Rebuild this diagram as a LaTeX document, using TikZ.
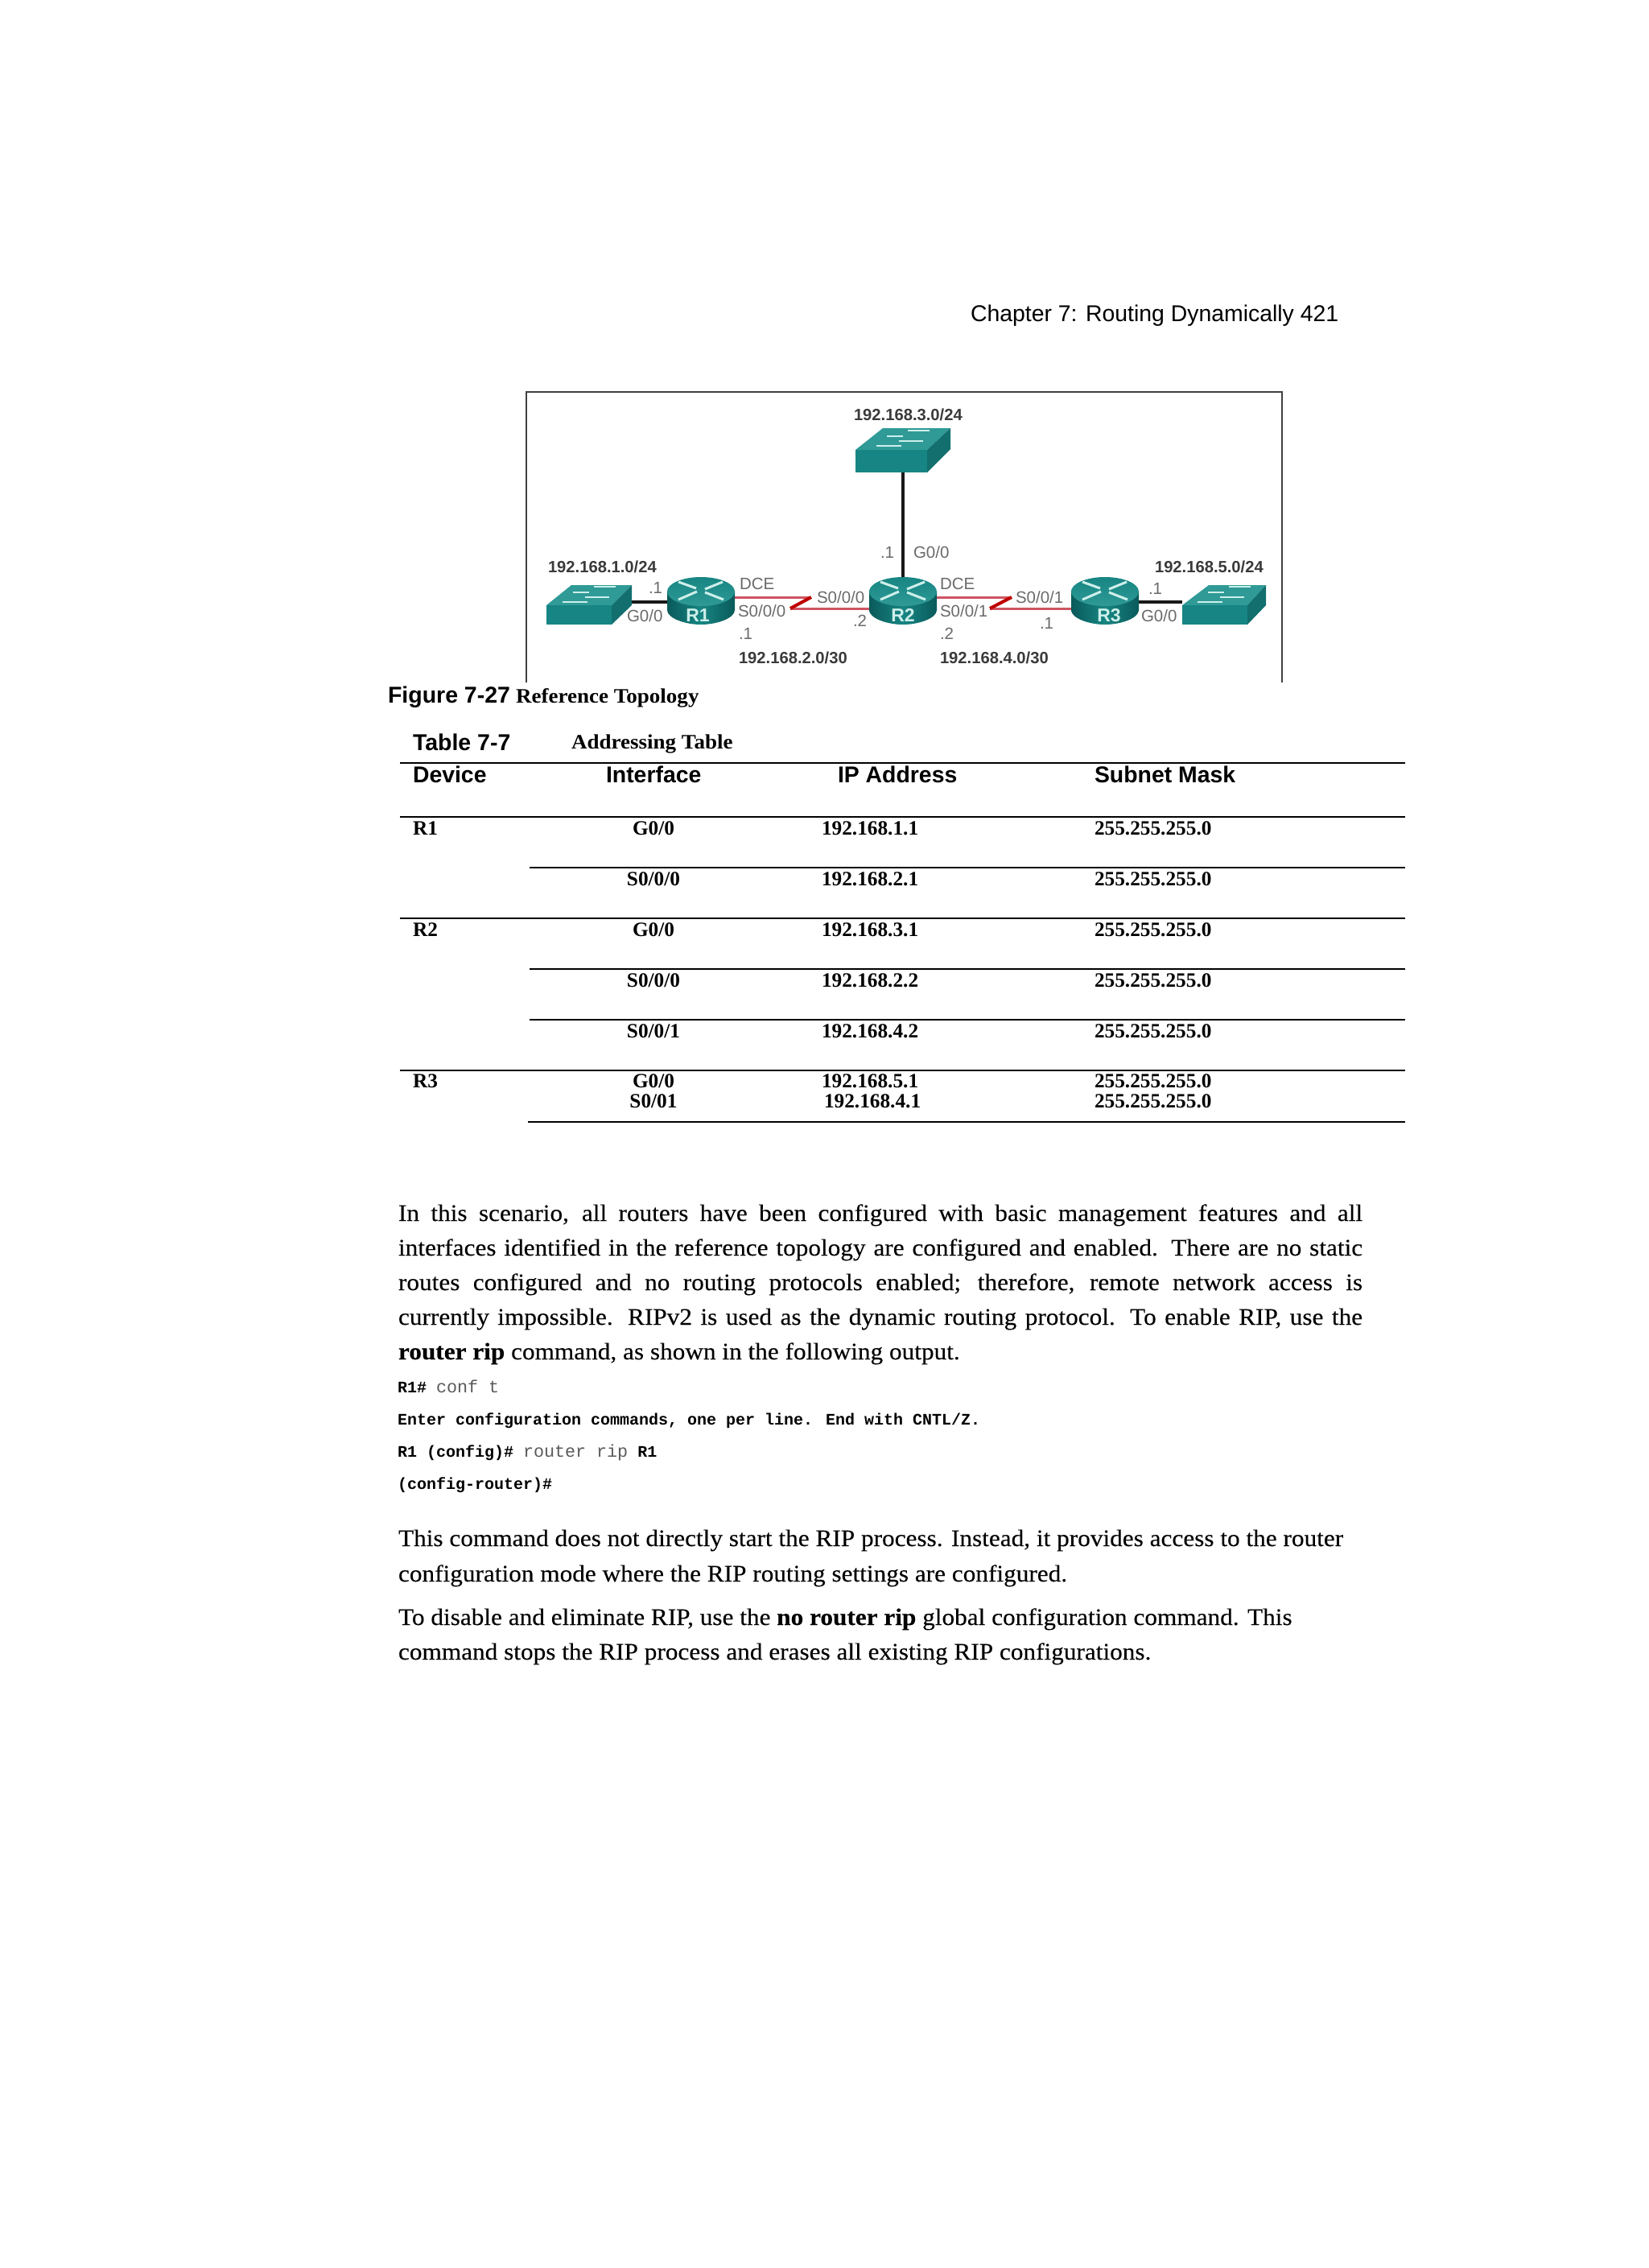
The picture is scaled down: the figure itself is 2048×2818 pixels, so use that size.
\documentclass[tikz,border=0pt]{standalone}
\usepackage{fontspec}
\setmainfont{Liberation Sans}
\newfontfamily\palfont[FakeStretch=1.06,FakeBold=0.15]{Liberation Serif}
\newfontfamily\palcell{Liberation Serif}
\newfontfamily\palcap[FakeStretch=1.06]{Liberation Serif}
\newfontfamily\codefont{Liberation Mono}
\newcommand{\fsz}[1]{\fontsize{#1}{#1}\selectfont}
\newcommand{\lightcode}[1]{{\mdseries\fsz{21.7}\color{codegray}#1}}
\definecolor{codegray}{HTML}{5A5A5A}
\definecolor{lblgray}{HTML}{6A6A6A}
\definecolor{netgray}{HTML}{3A3A3A}
\definecolor{tealtop}{HTML}{2F9A96}
\definecolor{tealfront}{HTML}{178583}
\definecolor{tealside}{HTML}{126F6E}
\definecolor{tealdark}{HTML}{0A5A5A}
\definecolor{tealpale}{HTML}{CDEFEA}
\definecolor{serialred}{HTML}{CF5563}
\tikzset{
  txt/.style={anchor=base west,inner sep=0pt,outer sep=0pt},
  hdr/.style={txt,font=\fsz{28.4}},
  net/.style={txt,font=\fsz{20.2}\bfseries,text=netgray},
  lbl/.style={txt,font=\fsz{20.5},text=lblgray},
  rname/.style={anchor=base,inner sep=0pt,font=\fsz{23}\bfseries,text=tealpale},
  capB/.style={txt,font=\fsz{28.5}\bfseries},
  capS/.style={txt,font=\palcap\bfseries\fsz{25.5}},
  colh/.style={txt,font=\fsz{28.4}\bfseries},
  cell/.style={txt,font=\palcell\bfseries\fsz{25.3}},
  cellc/.style={anchor=base,inner sep=0pt,font=\palcell\bfseries\fsz{25.3}},
  body/.style={txt,font=\palfont\fsz{29.5}},
  code/.style={txt,font=\codefont\fsz{20}},
  devbox/.style={inner sep=0pt,outer sep=0pt,minimum width=#1},
  rule/.style={line width=2pt,black},
  ether/.style={line width=4pt,black!90},
  serial/.style={line width=3pt,serialred},
  bolt/.style={line width=4pt,red!75!black}
}
\newcommand{\routerdraw}[1]{%
  \begin{scope}[shift={(#1.center)}]
    \path[left color=tealdark,right color=tealdark,middle color=tealfront]
      (-42,-13) -- (-42,10) .. controls (-42,20) and (-20,28) .. (0,28)
      .. controls (20,28) and (42,20) .. (42,10) -- (42,-13) -- cycle;
    \path[top color=tealfront,bottom color=tealtop] (0,-13) ellipse [x radius=42,y radius=18];
    \draw[tealpale,line width=3pt] (-28,-25) -- (-6,-17) (27,-25) -- (5,-16)
       (-28,-3) -- (-5,-13) (28,-3) -- (5,-12);
  \end{scope}}
\newcommand{\switchdraw}[8]{% fl fr bl br yt ym yb side-bottom
  \fill[tealtop] (#1,#6) -- (#3,#5) -- (#4,#5) -- (#2,#6) -- cycle;
  \fill[tealfront] (#1,#6) rectangle (#2,#7);
  \fill[tealside] (#2,#6) -- (#4,#5) -- (#4,#8) -- (#2,#7) -- cycle;
  \begin{scope}[shift={({(#1+#4)/2},{(#5+#6)/2})}]
    \draw[tealpale,line width=2pt] (-20,-4) -- (0,-4) (-5,2) -- (25,2) (-33,8) -- (-2,8) (6,-11) -- (33,-11);
  \end{scope}}
\begin{document}
\begin{tikzpicture}[x=1pt,y=-1pt]
\useasboundingbox (0,0) rectangle (2048,2818);
\fill[white] (0,0) rectangle (2048,2818);

\node[hdr] (head) at (1206,399) {Chapter 7: Routing Dynamically 421};

% figure frame
\draw[line width=2pt,black!75] (654,848) -- (654,487) -- (1593,487) -- (1593,848);

% device placeholders
\node[devbox=106,minimum height=49] (sw1) at (732,751.5) {};
\node[devbox=118,minimum height=55] (sw2) at (1122,559.5) {};
\node[devbox=104,minimum height=49] (sw3) at (1521,751.5) {};
\node[devbox=84,minimum height=56] (r1) at (871,748) {};
\node[devbox=84,minimum height=56] (r2) at (1122,748) {};
\node[devbox=84,minimum height=56] (r3) at (1373,748) {};

% links
\draw[ether] (sw1.east |- r1.center) -- (r1.west);
\draw[ether] (r3.east) -- (sw3.west |- r3.center);
\draw[ether] (sw2.south) -- (r2.north);
\draw[serial] ([yshift=6pt]r1.east) -- (1008,742) (982,756) -- ([yshift=-8pt]r2.west);
\draw[bolt] (1008,742) -- (982,756);
\draw[serial] ([yshift=6pt]r2.east) -- (1257,742) (1230,756) -- ([yshift=-8pt]r3.west);
\draw[bolt] (1257,742) -- (1230,756);

% devices
\switchdraw{679}{760}{710}{785}{727}{752}{776}{752}
\switchdraw{1063}{1152}{1097}{1181}{532}{559}{587}{558}
\switchdraw{1469}{1550}{1502}{1573}{727}{752}{776}{752}
\routerdraw{r1}
\routerdraw{r2}
\routerdraw{r3}
\node[rname] (r1t) at (867,772) {R1};
\node[rname] (r2t) at (1122,772) {R2};
\node[rname] (r3t) at (1378,772) {R3};

% diagram labels
\node[net] (n3) at (1061,522) {192.168.3.0/24};
\node[net] (n1) at (681,711) {192.168.1.0/24};
\node[net] (n5) at (1435,711) {192.168.5.0/24};
\node[net] (n2) at (918,824) {192.168.2.0/30};
\node[net] (n4) at (1168,824) {192.168.4.0/30};
\node[lbl] (l1) at (806,737) {.1};
\node[lbl] (l2) at (779,772) {G0/0};
\node[lbl] (l3) at (919,732) {DCE};
\node[lbl] (l4) at (917,766) {S0/0/0};
\node[lbl] (l5) at (918,794) {.1};
\node[lbl] (l6) at (1015,749) {S0/0/0};
\node[lbl] (l7) at (1060,778) {.2};
\node[lbl] (l8) at (1094,693) {.1};
\node[lbl] (l9) at (1135,693) {G0/0};
\node[lbl] (l10) at (1168,732) {DCE};
\node[lbl] (l11) at (1168,766) {S0/0/1};
\node[lbl] (l12) at (1168,794) {.2};
\node[lbl] (l13) at (1262,749) {S0/0/1};
\node[lbl] (l14) at (1292,781) {.1};
\node[lbl] (l15) at (1427,738) {.1};
\node[lbl] (l16) at (1418,772) {G0/0};

% captions
\node[capB] (c1) at (482,873) {Figure 7-27};
\node[capS] (c2) at (641,873) {Reference Topology};
\node[capB] (c3) at (513,932) {Table 7-7};
\node[capS] (c4) at (710,930) {Addressing Table};

% table rules
\draw[rule] (497,948) -- (1746,948);
\draw[rule] (497,1015) -- (1746,1015);
\draw[rule] (658,1078) -- (1746,1078);
\draw[rule] (497,1141) -- (1746,1141);
\draw[rule] (658,1204) -- (1746,1204);
\draw[rule] (658,1267) -- (1746,1267);
\draw[rule] (497,1330) -- (1746,1330);
\draw[rule] (656,1394) -- (1746,1394);

% table head
\node[colh] (h1) at (513,972) {Device};
\node[colh] (h2) at (753,972) {Interface};
\node[colh] (h3) at (1041,972) {IP Address};
\node[colh] (h4) at (1360,972) {Subnet Mask};

% table rows
\node[cell] (a1) at (513,1037) {R1};
\node[cellc] (b1) at (812,1037) {G0/0};
\node[cell] (d1) at (1021,1037) {192.168.1.1};
\node[cell] (e1) at (1360,1037) {255.255.255.0};
\node[cellc] (b2) at (812,1100) {S0/0/0};
\node[cell] (d2) at (1021,1100) {192.168.2.1};
\node[cell] (e2) at (1360,1100) {255.255.255.0};
\node[cell] (a3) at (513,1163) {R2};
\node[cellc] (b3) at (812,1163) {G0/0};
\node[cell] (d3) at (1021,1163) {192.168.3.1};
\node[cell] (e3) at (1360,1163) {255.255.255.0};
\node[cellc] (b4) at (812,1226) {S0/0/0};
\node[cell] (d4) at (1021,1226) {192.168.2.2};
\node[cell] (e4) at (1360,1226) {255.255.255.0};
\node[cellc] (b5) at (812,1289) {S0/0/1};
\node[cell] (d5) at (1021,1289) {192.168.4.2};
\node[cell] (e5) at (1360,1289) {255.255.255.0};
\node[cell] (a6) at (513,1351) {R3};
\node[cellc] (b6) at (812,1351) {G0/0};
\node[cell] (d6) at (1021,1351) {192.168.5.1};
\node[cell] (e6) at (1360,1351) {255.255.255.0};
\node[cellc] (b7) at (812,1376) {S0/01};
\node[cell] (d7) at (1024,1376) {192.168.4.1};
\node[cell] (e7) at (1360,1376) {255.255.255.0};

% body
\node[body] (p1) at (495,1517) {\makebox[1198pt][s]{In this scenario, all routers have been configured with basic management features and all}};
\node[body] (p2) at (495,1560) {\makebox[1198pt][s]{interfaces identified in the reference topology are configured and enabled. There are no static}};
\node[body] (p3) at (495,1603) {\makebox[1198pt][s]{routes configured and no routing protocols enabled; therefore, remote network access is}};
\node[body] (p4) at (495,1646) {\makebox[1198pt][s]{currently impossible. RIPv2 is used as the dynamic routing protocol. To enable RIP, use the}};
\node[body] (p5) at (495,1689) {{\bfseries router rip} command, as shown in the following output.};

\node[code] (k1) at (494,1730) {\bfseries R1\# \lightcode{conf t}};
\node[code] (k2) at (494,1770) {\bfseries Enter configuration commands, one per line. End with CNTL/Z.};
\node[code] (k3) at (494,1810) {\bfseries R1 (config)\# \lightcode{router rip} R1};
\node[code] (k4) at (494,1850) {\bfseries (config-router)\#};

\node[body] (q1) at (495,1921) {This command does not directly start the RIP process. Instead, it provides access to the router};
\node[body] (q2) at (495,1965) {configuration mode where the RIP routing settings are configured.};
\node[body] (q3) at (495,2019) {To disable and eliminate RIP, use the {\bfseries no router rip} global configuration command. This};
\node[body] (q4) at (495,2062) {command stops the RIP process and erases all existing RIP configurations.};
\end{tikzpicture}
\end{document}
